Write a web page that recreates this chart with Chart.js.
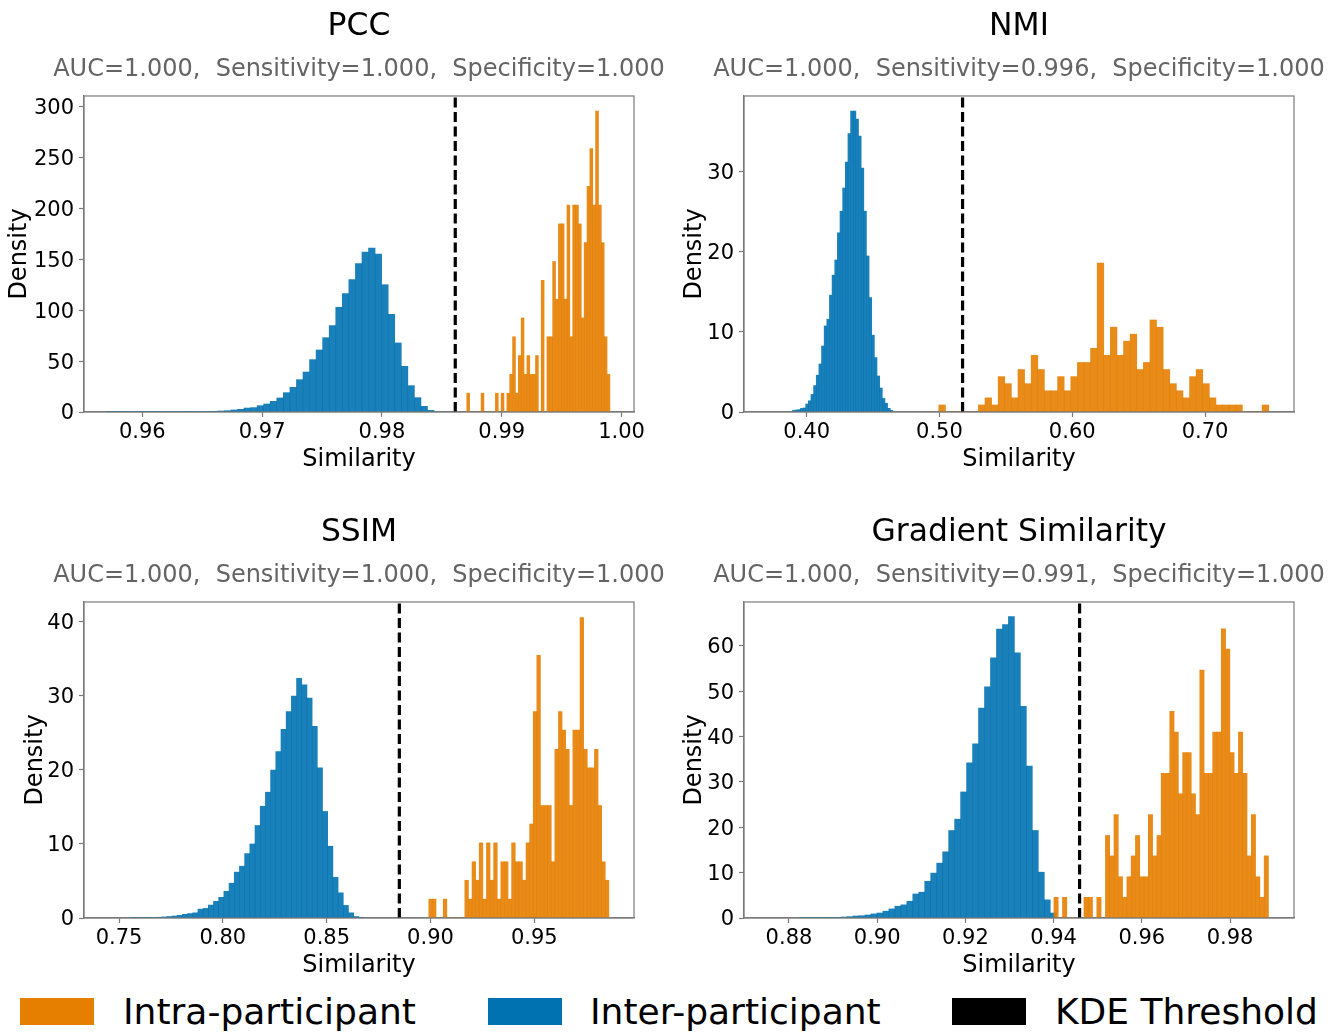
<!DOCTYPE html>
<html>
<head>
<meta charset="utf-8">
<script src="https://cdn.jsdelivr.net/npm/chart.js@4.4.1/dist/chart.umd.min.js"></script>
<style>
  html, body { margin:0; padding:0; background:#fff; width:1338px; height:1032px; overflow:hidden; }
  body { position:relative; font-family:"DejaVu Sans", sans-serif; }
  .panel { position:absolute; }
  .panel canvas { display:block; }
  .leg-patch { position:absolute; top:998px; width:74px; height:27px; }
  .leg-text { position:absolute; top:994px; font-size:36px; line-height:36px; color:#000; white-space:nowrap; }
</style>
</head>
<body>
<div class="panel" id="p1" style="left:0px;top:0px;width:718px;height:482px"><canvas id="c1"></canvas></div>
<div class="panel" id="p2" style="left:675px;top:0px;width:688px;height:482px"><canvas id="c2"></canvas></div>
<div class="panel" id="p3" style="left:16px;top:506px;width:686px;height:482px"><canvas id="c3"></canvas></div>
<div class="panel" id="p4" style="left:675px;top:506px;width:688px;height:482px"><canvas id="c4"></canvas></div>

<div class="leg-patch" style="left:20px;background:#E67E00"></div>
<div class="leg-text" style="left:123px">Intra-participant</div>
<div class="leg-patch" style="left:488px;background:#0072B2"></div>
<div class="leg-text" style="left:590px">Inter-participant</div>
<div class="leg-patch" style="left:952px;background:#000"></div>
<div class="leg-text" style="left:1055px">KDE Threshold</div>

<script>
// ---------------- DATA ----------------
const titles = ['PCC', 'NMI', 'SSIM', 'Gradient Similarity'];
const subtitles = [
  'AUC=1.000,  Sensitivity=1.000,  Specificity=1.000',
  'AUC=1.000,  Sensitivity=0.996,  Specificity=1.000',
  'AUC=1.000,  Sensitivity=1.000,  Specificity=1.000',
  'AUC=1.000,  Sensitivity=0.991,  Specificity=1.000'
];
const seriesNames = ['Intra-participant', 'Inter-participant', 'KDE Threshold'];

// PCC
const pccInterStart = 0.9570, pccInterWidth = 0.000547;
const pccInter = [0.02,0.02,0.03,0.03,0.04,0.05,0.05,0.06,0.08,0.1,0.1,0.15,0.2,0.25,0.3,0.4,0.7,1.0,1.3,2.0,2.6,3.9,4.3,6.2,7.9,10.5,13.8,19.0,24.3,31.8,39.3,51.5,61.0,73.1,84.9,103.0,116.4,130.2,145.9,157.4,161.3,155.4,125.2,96.1,67.9,44.9,25.9,14.1,5.6,1.6];
const pccIntraStart = 0.98708, pccIntraWidth = 0.000239;
const pccIntra = [18.5,0,0,0,0,18.5,0,0,0,0,18.5,0,18.5,0,18.5,37,74,18.5,55.5,92.5,37,55.5,37,37,55.5,0,129.5,0,74,74,148,111,185,185,111,203.5,74,203.5,203.5,185,92.5,166.5,222,259,203.5,296,203.5,166.5,74,37];
const pccThreshold = 0.98612;
const pccXTicks = [0.96, 0.97, 0.98, 0.99, 1.00];
const pccYTicks = [0, 50, 100, 150, 200, 250, 300];

// NMI
const nmiInterStart = 0.38928, nmiInterWidth = 0.00199;
const nmiInter = [0.2,0.25,0.3,0.45,0.5,1.0,1.4,2.2,3.3,4.6,6.0,8.25,10.75,11.6,14.6,17.1,19.0,22.4,25.1,28.0,31.25,34.8,37.6,37.6,36.6,34.5,30.5,25.1,19.5,14.3,9.6,6.8,4.5,3.0,1.7,1.1,0.46,0.2];
const nmiIntraStart = 0.4995, nmiIntraWidth = 0.00497;
const nmiIntra = [0.88,0,0,0,0,0,0.88,1.77,0.88,4.42,3.54,1.77,5.31,3.54,7.08,5.31,2.65,2.65,4.42,2.65,4.42,6.19,6.19,7.96,18.6,7.08,10.6,7.08,8.85,9.73,5.31,6.19,11.5,10.6,5.31,3.54,2.65,1.77,4.42,5.31,3.54,1.77,0.88,0.88,0.88,0.88,0,0,0,0.88];
const nmiThreshold = 0.5174;
const nmiXTicks = [0.40, 0.50, 0.60, 0.70];
const nmiYTicks = [0, 10, 20, 30];

// SSIM
const ssimInterStart = 0.7555, ssimInterWidth = 0.0025;
const ssimInter = [0.02,0.03,0.04,0.05,0.08,0.1,0.14,0.2,0.27,0.36,0.5,0.6,0.7,1.2,1.3,1.75,2.25,2.8,3.6,4.7,6.2,7.0,8.7,10.0,12.5,15.1,17.0,20.0,22.5,25.5,27.9,30.0,32.4,31.5,29.7,25.9,20.3,14.4,9.7,5.5,3.4,1.7,0.7,0.2,0.1];
const ssimIntraStart = 0.8992, ssimIntraWidth = 0.001734;
const ssimIntra = [2.55,2.55,0,0,2.55,0,0,0,0,0,5.1,2.55,7.6,5.1,10.15,2.55,10.15,5.1,10.15,2.55,7.6,7.6,2.55,10.15,7.6,7.6,5.1,10.15,12.7,27.9,35.5,15.2,15.2,15.2,7.6,22.8,27.9,25.4,22.8,15.2,25.4,25.4,40.6,22.8,20.3,20.3,22.8,15.2,7.6,5.1];
const ssimThreshold = 0.8850;
const ssimXTicks = [0.75, 0.80, 0.85, 0.90, 0.95];
const ssimYTicks = [0, 10, 20, 30, 40];

// Gradient Similarity
const gradInterStart = 0.88233, gradInterWidth = 0.001355;
const gradInter = [0.03,0.04,0.05,0.07,0.07,0.1,0.15,0.22,0.3,0.44,0.5,0.66,0.9,1.1,1.5,2.0,2.6,2.9,3.7,5.3,5.7,8.1,9.9,12.1,14.6,19.3,21.8,27.8,34.2,38.4,46.3,51.0,57.4,63.7,64.7,66.5,58.5,46.7,33.5,19.3,10.1,4.0,1.1];
const gradIntraStart = 0.94007, gradIntraWidth = 0.000973;
const gradIntra = [4.56,0,4.56,0,0,0,0,4.56,4.56,0,4.56,0,18.2,13.7,22.8,9.1,4.56,9.1,13.7,18.2,9.1,9.1,22.8,13.7,18.2,31.9,31.9,45.6,41.0,27.4,36.5,36.5,27.4,22.8,54.7,31.9,31.9,41.0,41.0,63.8,59.3,36.5,31.9,41.0,31.9,13.7,22.8,9.1,4.56,13.7];
const gradThreshold = 0.94589;
const gradXTicks = [0.88, 0.90, 0.92, 0.94, 0.96, 0.98];
const gradYTicks = [0, 10, 20, 30, 40, 50, 60];

// ---------------- STYLE ----------------
const FONT = 'DejaVu Sans';
const BLUE = 'rgba(0,114,178,0.9)';
const ORANGE = 'rgba(230,126,0,0.9)';
const SPINE = '#7a7a7a';

Chart.defaults.font.family = FONT;
Chart.defaults.color = '#000';

function histPoints(start, width, heights) {
  return heights.map((h, i) => ({ x: start + (i + 0.5) * width, y: h }));
}

const framePlugin = {
  id: 'frame',
  afterDraw(chart) {
    const a = chart.chartArea, ctx = chart.ctx;
    ctx.save();
    ctx.strokeStyle = SPINE;
    ctx.lineWidth = 1.2;
    ctx.strokeRect(a.left, a.top, a.right - a.left, a.bottom - a.top);
    ctx.restore();
  }
};

function makePanel(canvasId, cfg) {
  const tickFont = { family: FONT, size: 21, lineHeight: 1.0 };
  const labelFont = { family: FONT, size: 24, lineHeight: 1.2 };
  return new Chart(document.getElementById(canvasId), {
    type: 'bar',
    data: {
      datasets: [
        {
          label: seriesNames[2], type: 'line', xAxisID: 'x', yAxisID: 'y', order: 0,
          data: [{ x: cfg.threshold, y: 0 }, { x: cfg.threshold, y: cfg.yMax }],
          borderColor: '#000', borderWidth: 3.2, borderDash: [10, 4.5],
          pointRadius: 0, fill: false, tension: 0
        },
        {
          label: seriesNames[1], xAxisID: 'x', yAxisID: 'y', order: 2,
          data: histPoints(cfg.interStart, cfg.interWidth, cfg.inter),
          backgroundColor: BLUE, borderWidth: 0,
          barPercentage: 1, categoryPercentage: 1, grouped: false
        },
        {
          label: seriesNames[0], xAxisID: 'xb', yAxisID: 'y', order: 1,
          data: histPoints(cfg.intraStart, cfg.intraWidth, cfg.intra),
          backgroundColor: ORANGE, borderWidth: 0,
          barPercentage: 1, categoryPercentage: 1, grouped: false
        }
      ]
    },
    options: {
      responsive: true,
      maintainAspectRatio: false,
      animation: false,
      events: [],
      layout: { padding: 0 },
      plugins: {
        legend: { display: false },
        tooltip: { enabled: false },
        title: {
          display: true, text: cfg.title, fullSize: true, color: '#000',
          font: { family: FONT, size: 31.4, weight: 'normal', lineHeight: 1.2 },
          padding: { top: 8.15, bottom: 0 }
        },
        subtitle: {
          display: true, text: cfg.subtitle, fullSize: true, color: '#646464',
          font: { family: FONT, size: 24, weight: 'normal', lineHeight: 1.2 },
          padding: { top: 9.75, bottom: 11.6 }
        }
      },
      scales: {
        x: {
          type: 'linear', position: 'bottom', min: cfg.xMin, max: cfg.xMax, offset: false,
          afterBuildTicks: s => { s.ticks = cfg.xTicks.map(v => ({ value: v })); },
          afterFit: s => { s.height = 70; },
          ticks: {
            font: tickFont, color: '#000', padding: 5, autoSkip: false, maxRotation: 0,
            callback: v => Number(v).toFixed(2)
          },
          grid: { display: true, drawOnChartArea: false, drawTicks: true, tickLength: 5,
                  tickWidth: 1.2, tickColor: SPINE, color: SPINE, offset: false },
          border: { display: true, color: SPINE, width: 1.2 },
          title: { display: true, text: 'Similarity', color: '#000', font: labelFont,
                   padding: { top: 0, bottom: 7.6 } }
        },
        xb: {
          type: 'linear', display: false, min: cfg.xMin, max: cfg.xMax, offset: false
        },
        y: {
          type: 'linear', position: 'left', min: 0, max: cfg.yMax,
          afterBuildTicks: s => { s.ticks = cfg.yTicks.map(v => ({ value: v })); },
          afterFit: s => { s.width = cfg.yAxisWidth; },
          ticks: { font: tickFont, color: '#000', padding: 5, labelOffset: 2, callback: v => String(v) },
          grid: { display: true, drawOnChartArea: false, drawTicks: true, tickLength: 5,
                  tickWidth: 1.2, tickColor: SPINE, color: SPINE },
          border: { display: true, color: SPINE, width: 1.2 },
          title: { display: true, text: 'Density', color: '#000', font: labelFont,
                   padding: { top: 5.1, bottom: 0 } }
        },
        // empty right-hand axis: balances the left axis so the titles centre over the plot
        yr: {
          type: 'linear', position: 'right', display: true, min: 0, max: 1,
          ticks: { display: false },
          grid: { display: false, drawTicks: false },
          border: { display: false },
          afterFit: s => { s.width = cfg.yAxisWidth; }
        }
      }
    },
    plugins: [framePlugin]
  });
}

makePanel('c1', {
  title: titles[0], subtitle: subtitles[0],
  inter: pccInter, interStart: pccInterStart, interWidth: pccInterWidth,
  intra: pccIntra, intraStart: pccIntraStart, intraWidth: pccIntraWidth,
  threshold: pccThreshold, xTicks: pccXTicks, yTicks: pccYTicks,
  xMin: 0.95513, xMax: 1.00104, yMax: 310.8, yAxisWidth: 84
});
makePanel('c2', {
  title: titles[1], subtitle: subtitles[1],
  inter: nmiInter, interStart: nmiInterStart, interWidth: nmiInterWidth,
  intra: nmiIntra, intraStart: nmiIntraStart, intraWidth: nmiIntraWidth,
  threshold: nmiThreshold, xTicks: nmiXTicks, yTicks: nmiYTicks,
  xMin: 0.35278, xMax: 0.76703, yMax: 39.5, yAxisWidth: 69
});
makePanel('c3', {
  title: titles[2], subtitle: subtitles[2],
  inter: ssimInter, interStart: ssimInterStart, interWidth: ssimInterWidth,
  intra: ssimIntra, intraStart: ssimIntraStart, intraWidth: ssimIntraWidth,
  threshold: ssimThreshold, xTicks: ssimXTicks, yTicks: ssimYTicks,
  xMin: 0.73314, xMax: 0.99801, yMax: 42.7, yAxisWidth: 68
});
makePanel('c4', {
  title: titles[3], subtitle: subtitles[3],
  inter: gradInter, interStart: gradInterStart, interWidth: gradInterWidth,
  intra: gradIntra, intraStart: gradIntraStart, intraWidth: gradIntraWidth,
  threshold: gradThreshold, xTicks: gradXTicks, yTicks: gradYTicks,
  xMin: 0.86980, xMax: 0.99451, yMax: 69.7, yAxisWidth: 69
});
</script>
</body>
</html>
